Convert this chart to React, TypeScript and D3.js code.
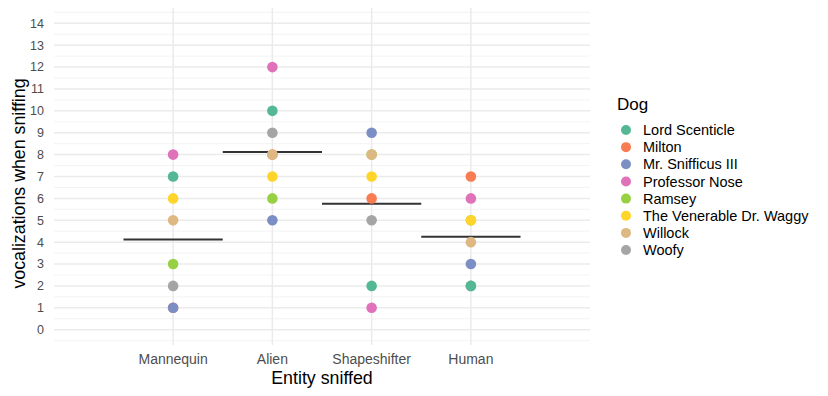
import React, { useEffect, useRef } from 'react';
import * as d3 from 'd3';

const entities = ['Mannequin', 'Alien', 'Shapeshifter', 'Human'];

const dogs = [
  'Lord Scenticle',
  'Milton',
  'Mr. Snifficus III',
  'Professor Nose',
  'Ramsey',
  'The Venerable Dr. Waggy',
  'Willock',
  'Woofy',
];

const dogColors = ['#55b894', '#f97b52', '#7c8fc4', '#e072b9', '#97d143', '#ffd42b', '#ddb883', '#a5a5a5'];

// values per dog, in the order of `entities`
const lordScenticle = [7, 10, 2, 2];
const milton = [1, 8, 6, 7];
const mrSnifficus = [1, 5, 9, 3];
const professorNose = [8, 12, 1, 6];
const ramsey = [3, 6, 8, 5];
const drWaggy = [6, 7, 7, 5];
const willock = [5, 8, 8, 4];
const woofy = [2, 9, 5, 2];

const dogValues = [lordScenticle, milton, mrSnifficus, professorNose, ramsey, drWaggy, willock, woofy];

// order the rows were plotted in (later ones sit on top)
const drawOrder = ['Woofy', 'Ramsey', 'Lord Scenticle', 'Milton', 'Mr. Snifficus III', 'Professor Nose', 'The Venerable Dr. Waggy', 'Willock'];

const yTicks = d3.range(0, 15);

export default function App() {
  const svgRef = useRef<SVGSVGElement>(null);

  useEffect(() => {
    if (!svgRef.current) return;
    const svg = d3.select(svgRef.current);
    svg.selectAll('*').remove();

    const W = 828, H = 396;
    const panel = { left: 54, right: 590, top: 8, bottom: 345 };
    const font = '"Liberation Sans", Arial, sans-serif';

    const x = d3.scaleLinear().domain([-0.2, 5.2]).range([panel.left, panel.right]);
    const y = d3.scaleLinear().domain([-0.7, 14.7]).range([panel.bottom, panel.top]);
    const color = d3.scaleOrdinal<string, string>().domain(dogs).range(dogColors);

    svg.attr('width', W).attr('height', H).style('font-family', font);
    svg.append('rect').attr('width', W).attr('height', H).attr('fill', '#fff');

    // grid
    const grid = svg.append('g');
    const minor = d3.range(-0.5, 15, 1);
    grid.selectAll('line.minor').data(minor).join('line')
      .attr('x1', panel.left).attr('x2', panel.right)
      .attr('y1', d => y(d)).attr('y2', d => y(d))
      .attr('stroke', '#f0f0f0').attr('stroke-width', 0.8);
    grid.selectAll('line.major').data(yTicks).join('line')
      .attr('x1', panel.left).attr('x2', panel.right)
      .attr('y1', d => y(d)).attr('y2', d => y(d))
      .attr('stroke', '#ebebeb').attr('stroke-width', 1.5);
    grid.selectAll('line.vmajor').data(entities).join('line')
      .attr('x1', (_, i) => x(i + 1)).attr('x2', (_, i) => x(i + 1))
      .attr('y1', panel.top).attr('y2', panel.bottom)
      .attr('stroke', '#ebebeb').attr('stroke-width', 1.5);

    // y axis labels
    svg.append('g').selectAll('text').data(yTicks).join('text')
      .attr('x', panel.left - 10).attr('y', d => y(d)).attr('dy', '0.35em')
      .attr('text-anchor', 'end').attr('fill', '#4d4d4d').style('font-size', '12.5px')
      .text(d => d);

    // x axis labels
    svg.append('g').selectAll('text').data(entities).join('text')
      .attr('x', (_, i) => x(i + 1)).attr('y', 364)
      .attr('text-anchor', 'middle').attr('fill', '#4d4d4d').style('font-size', '14px')
      .text(d => d);

    svg.append('text')
      .attr('x', (panel.left + panel.right) / 2).attr('y', 384)
      .attr('text-anchor', 'middle').style('font-size', '17.8px').attr('fill', '#000')
      .text('Entity sniffed');

    svg.append('text')
      .attr('transform', `translate(25,${(panel.top + panel.bottom) / 2 + 7}) rotate(-90)`)
      .attr('text-anchor', 'middle').style('font-size', '17.8px').attr('fill', '#000')
      .text('vocalizations when sniffing');

    // mean lines
    const means = entities.map((e, i) => ({ i, mean: d3.mean(dogValues, v => v[i]) as number }));
    svg.append('g').selectAll('line').data(means).join('line')
      .attr('x1', d => x(d.i + 0.5)).attr('x2', d => x(d.i + 1.5))
      .attr('y1', d => y(d.mean)).attr('y2', d => y(d.mean))
      .attr('stroke', '#333').attr('stroke-width', 2);

    // points
    const rows: { dog: string; i: number; v: number }[] = [];
    drawOrder.forEach(dog => {
      const vals = dogValues[dogs.indexOf(dog)];
      vals.forEach((v, i) => rows.push({ dog, i, v }));
    });
    svg.append('g').selectAll('circle').data(rows).join('circle')
      .attr('cx', d => x(d.i + 1)).attr('cy', d => y(d.v)).attr('r', 5.3)
      .attr('fill', d => color(d.dog));

    // legend
    const lg = svg.append('g').attr('transform', 'translate(617,0)');
    lg.append('text').attr('x', 0).attr('y', 110).style('font-size', '17px').attr('fill', '#000').text('Dog');
    const item = lg.selectAll('g.item').data(dogs).join('g')
      .attr('transform', (_, i) => `translate(0,${130 + i * 17.15})`);
    item.append('circle').attr('cx', 9).attr('cy', 0).attr('r', 5).attr('fill', d => color(d));
    item.append('text').attr('x', 26).attr('y', 0).attr('dy', '0.35em')
      .style('font-size', '14.5px').attr('fill', '#000').text(d => d);
  }, []);

  return (
    <div style={{ position: 'absolute', left: 0, top: 0 }}>
      <svg ref={svgRef}></svg>
    </div>
  );
}
